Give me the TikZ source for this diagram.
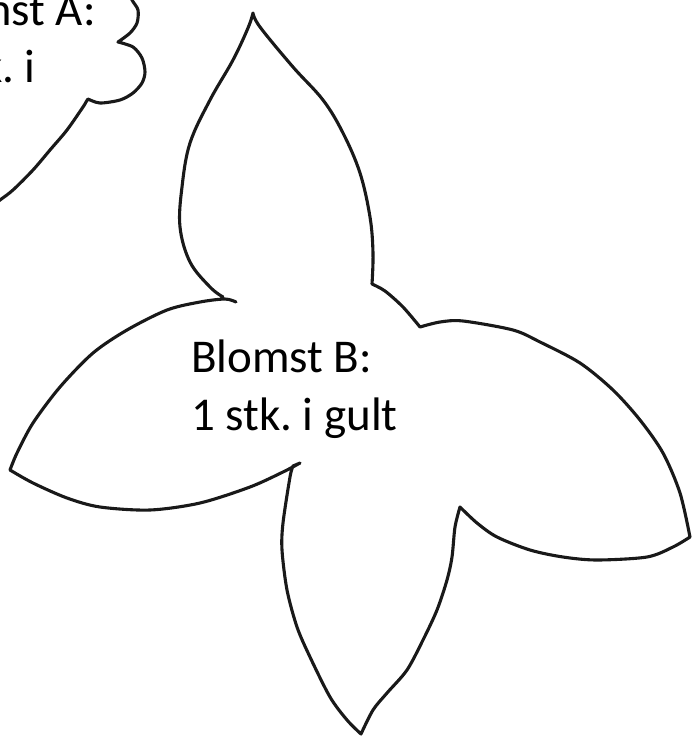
\documentclass[tikz,border=0pt]{standalone}
\usepackage{fontspec}
\setmainfont{Carlito}
\frenchspacing
\tikzset{
  outline/.style={draw=black!90, line width=3.1pt, line join=round, line cap=round},
  lbl/.style={anchor=base west, inner sep=0pt, outer sep=0pt, text=black, font=\fontsize{47}{58}\selectfont\frenchspacing}
}
\begin{document}
\begin{tikzpicture}[x=1pt, y=-1pt]
\useasboundingbox (0,0) rectangle (692,737);
\fill[white] (0,0) rectangle (692,737);
\clip (0,0) rectangle (692,737);

% Flower A (partly outside the picture)
\draw[outline] plot[smooth] coordinates {(128,-10) (132,0) (138,10) (137,23) (130,33) (118,42)}
  -- plot[smooth] coordinates {(118,42) (133,47) (142,58) (145,72) (142,83) (133,93) (120,100) (100,103) (88,99)}
  -- (86,102)
  -- plot[smooth] coordinates {(86,102) (83,107) (67,130) (50,150) (33,170) (13,190) (0,200) (-12,209)};
\node[lbl] (aTitle) at (-87,25) {Blomst A:};
\node[lbl] (aCount) at (-87,82) {1 stk. i};

% Flower B
\draw[outline]
  plot[smooth, tension=0.6] coordinates {(223,297) (210,287) (190,262) (180,227) (182,187) (190,143) (210,100) (233,60) (248,28) (253,13)}
  -- plot[smooth, tension=0.6] coordinates {(253,13) (260,27) (293,67) (323,100) (343,133) (360,173) (370,217) (373,253) (372,284)}
  -- plot[smooth] coordinates {(372,284) (385,291) (403,307) (420,327)}
  -- plot[smooth] coordinates {(420,327) (440,322) (463,321) (513,330) (540,342) (580,363) (613,390) (640,420) (663,453) (680,493) (690,537)}
  -- plot[smooth] coordinates {(690,537) (673,547) (647,557) (597,560) (563,557) (530,550) (497,537) (477,523) (460,507)}
  -- plot[smooth] coordinates {(460,507) (455,527) (452,557) (447,580) (437,610) (423,640) (407,670) (387,693) (373,710) (361,734)}
  -- plot[smooth] coordinates {(361,734) (347,720) (330,697) (310,657) (297,627) (287,590) (282,550) (283,523) (290,477) (293,466)}
  -- (300,463)
  -- plot[smooth] coordinates {(300,463) (283,472) (250,487) (200,503) (150,510) (100,507) (67,498) (33,483) (10,470)}
  -- plot[smooth] coordinates {(10,470) (17,453) (33,423) (60,387) (93,353) (127,330) (167,310) (200,302) (225,299) (236,302)};
\node[lbl] (bTitle) at (191,372) {Blomst B:};
\node[lbl] (bCount) at (191,430) {1 stk. i gult};
\end{tikzpicture}
\end{document}
